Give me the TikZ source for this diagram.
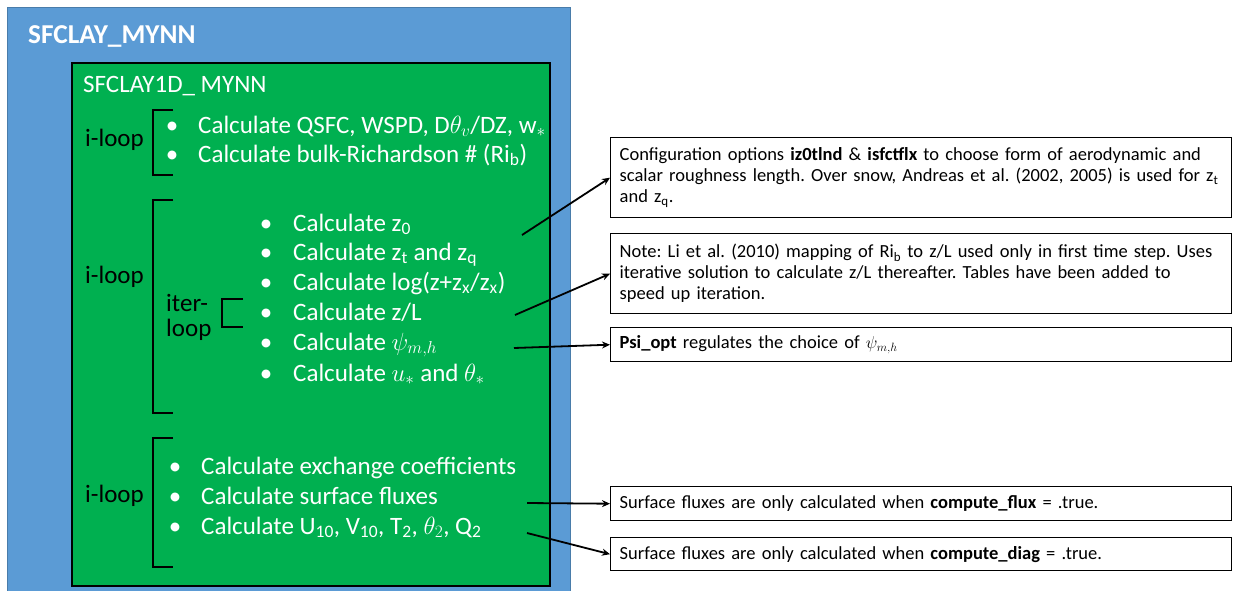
\documentclass[tikz,border=0pt]{standalone}
\usepackage{fontspec}
\setmainfont{Carlito}
\usetikzlibrary{arrows.meta}

\definecolor{mynnblue}{RGB}{91,155,213}
\definecolor{mynngreen}{RGB}{0,176,80}

\tikzset{
  calc/.style={anchor=west,inner sep=0pt,text=white,font=\fontsize{25}{30}\selectfont,text height=18pt,text depth=6pt},
  looplabel/.style={anchor=west,inner sep=0pt,font=\fontsize{25}{25}\selectfont,align=left},
  bracket/.style={line width=1.8pt},
  notebox/.style={draw,line width=1.4pt,fill=white,anchor=north west,inner xsep=9pt,text width=603pt,align=left,font=\fontsize{18.5}{21}\selectfont},
  link/.style={line width=1.8pt,-{Stealth[length=8pt,width=7pt]}}
}

\begin{document}
\frenchspacing
\begin{tikzpicture}[x=1pt,y=-1pt]
\useasboundingbox (0,0) rectangle (1233,590);

% Outer and inner boxes
\draw[fill=mynnblue,draw=mynnblue!80!black,line width=0.6pt] (7,7) rectangle (570,600);
\draw[fill=mynngreen,line width=1.4pt] (72,63) rectangle (550,586);
\node[calc,font=\bfseries\fontsize{27.3}{30}\selectfont] (outer) at (28,37) {SFCLAY\_MYNN};
\node[calc,font=\fontsize{25}{30}\selectfont] (inner) at (83,86) {SFCLAY1D\_ MYNN};

% First i-loop
\node[looplabel] (loopa) at (85,140) {i-loop};
\draw[bracket] (173,110) -- (153,110) -- (153,175) -- (173,175);
\foreach \y/\txt [count=\i] in {127/{Calculate QSFC, WSPD, D$\theta_v$/DZ, w$_*$},
                                156/{Calculate bulk-Richardson \# (Ri\textsubscript{b})}} {
  \node[calc,anchor=center] (firstdot\i) at (172,\y) {\textbullet};
  \node[calc] (first\i) at (198,\y) {\txt};
}

% Second i-loop with iter-loop
\node[looplabel] (loopb) at (85,277) {i-loop};
\draw[bracket] (173,200) -- (153,200) -- (153,413) -- (173,413);
\node[looplabel] (iterloop) at (166,317) {iter-\\loop};
\draw[bracket] (243,299) -- (222,299) -- (222,327) -- (243,327);
\foreach \y/\txt [count=\i] in {225/{Calculate z\textsubscript{0}},
                                254/{Calculate z\textsubscript{t} and z\textsubscript{q}},
                                284/{Calculate log(z+z\textsubscript{x}/z\textsubscript{x})},
                                314/{Calculate z/L},
                                344/{Calculate $\psi_{m,h}$},
                                375/{Calculate $u_*$ and $\theta_*$}} {
  \node[calc,anchor=center] (iterdot\i) at (266,\y) {\textbullet};
  \node[calc] (iter\i) at (293,\y) {\txt};
}

% Third i-loop
\node[looplabel] (loopc) at (85,496) {i-loop};
\draw[bracket] (173,438) -- (153,438) -- (153,567) -- (173,567);
\foreach \y/\txt [count=\i] in {468/{Calculate exchange coefficients},
                                498/{Calculate surface fluxes},
                                528/{Calculate U\textsubscript{10}, V\textsubscript{10}, T\textsubscript{2}, $\theta_2$, Q\textsubscript{2}}} {
  \node[calc,anchor=center] (lastdot\i) at (175,\y) {\textbullet};
  \node[calc] (last\i) at (201,\y) {\txt};
}

% Notes on the right
\node[notebox,minimum height=80pt] (roughness) at (610,137) {Configuration options \textbf{iz0tlnd} \& \textbf{isfctflx} to choose form of aerodynamic and\\
scalar roughness length. Over snow, Andreas et al. (2002, 2005) is used for z\textsubscript{t}\\
and z\textsubscript{q}.};
\node[notebox,minimum height=80pt] (stability) at (610,233) {Note: Li et al. (2010) mapping of Ri\textsubscript{b} to z/L used only in first time step. Uses\\
iterative solution to calculate z/L thereafter. Tables have been added to\\
speed up iteration.};
\node[notebox,minimum height=34pt] (psiopt) at (610,327) {\textbf{Psi\_opt} regulates the choice of $\psi_{m,h}$};
\node[notebox,minimum height=34pt] (fluxnote) at (610,486) {Surface fluxes are only calculated when \textbf{compute\_flux} = .true.};
\node[notebox,minimum height=33pt] (diagnote) at (610,537) {Surface fluxes are only calculated when \textbf{compute\_diag} = .true.};

% Arrows
\coordinate (zzero) at (522,235);
\coordinate (zl) at (515,315);
\coordinate (psi) at (514,348);
\coordinate (flux) at (527,503);
\coordinate (diag) at (527,533);
\draw[link] (zzero) -- (roughness.west);
\draw[link] (zl) -- (stability.west);
\draw[link] (psi) -- (psiopt.west);
\draw[link] (flux) -- (fluxnote.west);
\draw[link] (diag) -- (diagnote.west);

\end{tikzpicture}
\end{document}
